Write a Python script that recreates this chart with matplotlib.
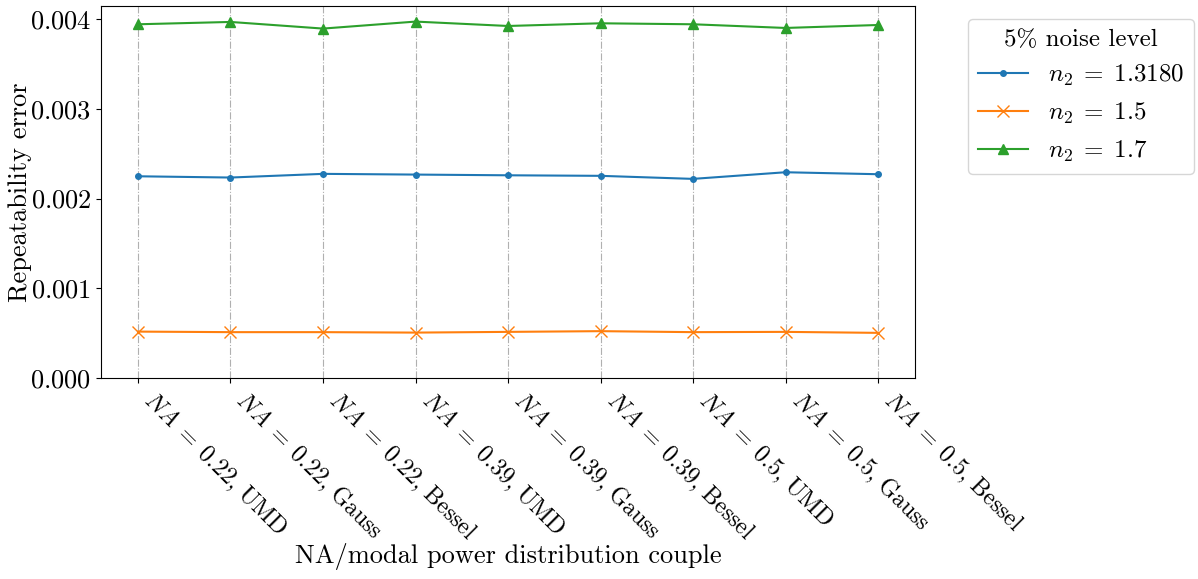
import numpy as np
import matplotlib
matplotlib.use('Agg')
import matplotlib.pyplot as plt

plt.rcParams['font.family'] = 'serif'
plt.rcParams['font.serif'] = ['cmr10']
plt.rcParams['mathtext.fontset'] = 'cm'
plt.rcParams['axes.formatter.use_mathtext'] = True
plt.rcParams['font.size'] = 19

couples = [r'$NA \;=\; 0.22$, UMD', r'$NA \;=\; 0.22$, Gauss', r'$NA \;=\; 0.22$, Bessel',
           r'$NA \;=\; 0.39$, UMD', r'$NA \;=\; 0.39$, Gauss', r'$NA \;=\; 0.39$, Bessel',
           r'$NA \;=\; 0.5$, UMD', r'$NA \;=\; 0.5$, Gauss', r'$NA \;=\; 0.5$, Bessel']

# repeatability error per refractive index n2 (5% noise)
err_1318 = [0.002249, 0.002235, 0.002276, 0.002268, 0.002260, 0.002254, 0.002220, 0.002294, 0.002272]
err_15 = [0.000517, 0.000511, 0.000511, 0.000506, 0.000514, 0.000522, 0.000511, 0.000514, 0.000503]
err_17 = [0.003944, 0.003970, 0.003896, 0.003974, 0.003925, 0.003955, 0.003944, 0.003903, 0.003936]

x = np.arange(len(couples))

fig = plt.figure(figsize=(11.98, 5.79), dpi=100)
ax = fig.add_axes([0.0843, 0.3472, 0.6795, 0.6424])

ax.plot(x, err_1318, marker='.', markersize=8, label=r'$n_2 \;=\; 1.3180$')
ax.plot(x, err_15, marker='x', markersize=8, label=r'$n_2 \;=\; 1.5$')
ax.plot(x, err_17, marker='^', markersize=7.5, label=r'$n_2 \;=\; 1.7$')

ax.set_ylim(bottom=0)
ax.set_yticks([0, 0.001, 0.002, 0.003, 0.004])
ax.set_xticks(x)
ax.set_xticklabels(couples, rotation=-45, ha='left', fontsize=17.2)
ax.grid(axis='x', linestyle='-.')

ax.set_xlabel('NA/modal power distribution couple')
ax.xaxis.set_label_coords(0.5, -0.445)
ax.set_ylabel('Repeatability error')
ax.yaxis.set_label_coords(-0.085, 0.5)
ax.legend(title='5% noise level', loc='upper left', bbox_to_anchor=(1.05, 1),
          fontsize=18, title_fontsize=18)

fig.savefig('out.png', dpi=100)
